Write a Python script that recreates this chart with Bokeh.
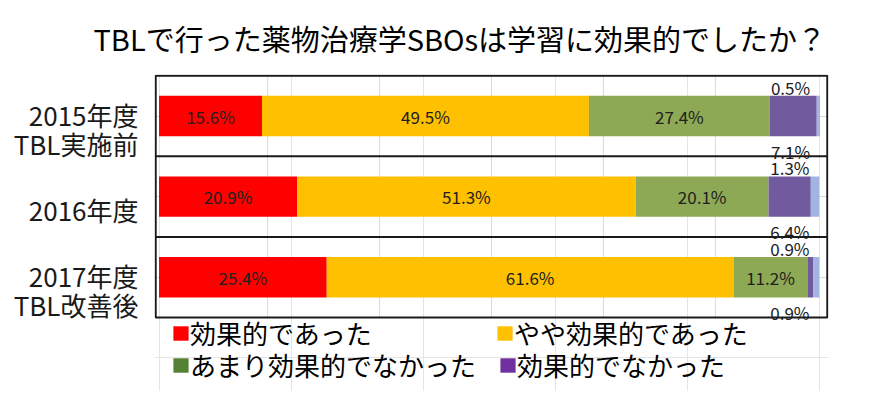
from bokeh.plotting import figure
from bokeh.models import (Range1d, LinearAxis, FixedTicker, ColumnDataSource, Legend,
                          LegendItem, Grid)
from bokeh.embed import file_html
from bokeh.resources import INLINE

# ---------------- data ----------------
title_text = "TBLで行った薬物治療学SBOsは学習に効果的でしたか？"
categories = ["2015年度\nTBL実施前", "2016年度", "2017年度\nTBL改善後"]
series_names = ["効果的であった", "やや効果的であった", "あまり効果的でなかった", "効果的でなかった", "無回答"]
effective = [15.6, 20.9, 25.4]
somewhat = [49.5, 51.3, 61.6]
not_very = [27.4, 20.1, 11.2]
not_effective = [7.1, 6.4, 0.9]
no_answer = [0.5, 1.3, 0.9]

bar_colors = ["#FF0000", "#FFC000", "#8DA955", "#725A9E", "#A2B4E2"]
legend_colors = ["#FF0000", "#FFC000", "#548235", "#7030A0"]

FONT = "Noto Sans CJK JP"
series = [effective, somewhat, not_very, not_effective, no_answer]
rows = list(range(len(categories)))

# layout: plot box occupies 242px for 3 rows; the space below it holds the legend
H = 391
TOP = 75
ROW_PX = 242 / 3
EXT = (H - TOP - 242) / ROW_PX
X0, X1 = -0.5, 101.2
PAD = 1.2 / 6.6        # one pixel of room so the box edges are not clipped
Y_TOP, Y_BOT = -0.5, 2.5

p = figure(width=870, height=H, output_backend="svg", toolbar_location=None,
           x_axis_location=None, y_axis_location=None,
           x_range=Range1d(X0 - PAD, X1 + PAD), y_range=Range1d(Y_BOT + EXT, Y_TOP - 1.2 / ROW_PX),
           min_border_left=154, min_border_right=42, min_border_top=TOP - 1, min_border_bottom=0,
           title=title_text)
p.outline_line_color = None
p.background_fill_color = "white"

p.title.align = "left"
p.title.offset = -61
p.title.vertical_align = "middle"
p.title.text_font = FONT
p.title.text_font_size = "29px"
p.title.text_font_style = "normal"
p.title.text_color = "black"
p.title.standoff = 29

# vertical gridlines (limited to the plot box)
span = (X1 - X0) / 6
gx = [X0 + k * span for k in range(1, 6)]
p.segment(x0=gx, x1=gx, y0=[Y_TOP] * 5, y1=[Y_BOT] * 5, line_color="#D9D9D9", line_width=1)

rowgrid = Grid(dimension=1, ticker=FixedTicker(ticks=rows), grid_line_color="#D9D9D9",
               grid_line_width=1)
p.add_layout(rowgrid)

# stacked bars
lefts = [0.0] * len(rows)
seg = []
for vals, col in zip(series, bar_colors):
    rights = [l + v for l, v in zip(lefts, vals)]
    src = ColumnDataSource(dict(y=rows, left=lefts, right=rights,
                                mid=[(l + r) / 2 for l, r in zip(lefts, rights)],
                                lab=[f"{v:.1f}%" for v in vals]))
    p.hbar(y="y", left="left", right="right", height=0.5, source=src,
           fill_color=col, line_color=None)
    seg.append(src)
    lefts = rights

# plot box outline and row separators
p.quad(left=[X0], right=[X1], top=[Y_TOP], bottom=[Y_BOT], fill_alpha=0,
       line_color="#1a1a1a", line_width=2)
seps = [r + 0.5 for r in rows[:-1]]
p.segment(x0=[X0] * len(seps), x1=[X1] * len(seps), y0=seps, y1=seps,
          line_color="#1a1a1a", line_width=2)

# labels inside bars (first three series)
for src in seg[:3]:
    p.text(x="mid", y="y", text="lab", source=src, text_align="center",
           text_baseline="middle", text_font_size="17px", text_color="#202020",
           text_font={"value": FONT})

# outside labels for the small segments
totals = lefts
for src, yoff in ((seg[3], 35), (seg[4], -29)):
    d = dict(src.data)
    d["xr"] = [t - 1.5 for t in totals]
    s2 = ColumnDataSource(d)
    p.text(x="xr", y="y", text="lab", source=s2, text_align="right",
           text_baseline="middle", y_offset=yoff, text_font_size="17px",
           text_color="#202020", text_font={"value": FONT})

# category axis (shifted slightly downward like the original)
shift = 0.16
yr = p.y_range
p.extra_y_ranges = {"lab": Range1d(yr.start - shift, yr.end - shift)}
ax = LinearAxis(y_range_name="lab", ticker=FixedTicker(ticks=rows),
                major_label_overrides={r: c for r, c in zip(rows, categories)})
ax.axis_line_color = None
ax.major_tick_line_color = None
ax.minor_tick_line_color = None
ax.major_label_text_font = FONT
ax.major_label_text_font_size = "26px"
ax.major_label_text_color = "#1a1a1a"
ax.major_label_standoff = 10
ax.major_label_text_line_height = 0.8
p.add_layout(ax, "left")

# legend: hidden copies of the series drawn in the legend colours,
# four single-entry legends arranged 2x2 below the plot box
legend_r = []
for src, col in zip(seg[:4], legend_colors):
    r = p.hbar(y="y", left="left", right="right", height=0.5, source=src,
               fill_color=col, line_color=None, visible=False)
    legend_r.append(r)

def make_legend(i, loc):
    leg = Legend(items=[LegendItem(label=series_names[i], renderers=[legend_r[i]])],
                 location=loc)
    leg.label_text_font = FONT
    leg.label_text_font_size = "26px"
    leg.label_text_color = "black"
    leg.glyph_width = 19
    leg.glyph_height = 18
    leg.label_standoff = 0
    leg.padding = 0
    leg.margin = 0
    leg.border_line_color = None
    leg.background_fill_alpha = 0
    return leg

for i, loc in zip(range(4), [(17, 40), (341, 40), (17, 8), (344, 8)]):
    p.add_layout(make_legend(i, loc))

open("out.html", "w").write(file_html(p, INLINE))
